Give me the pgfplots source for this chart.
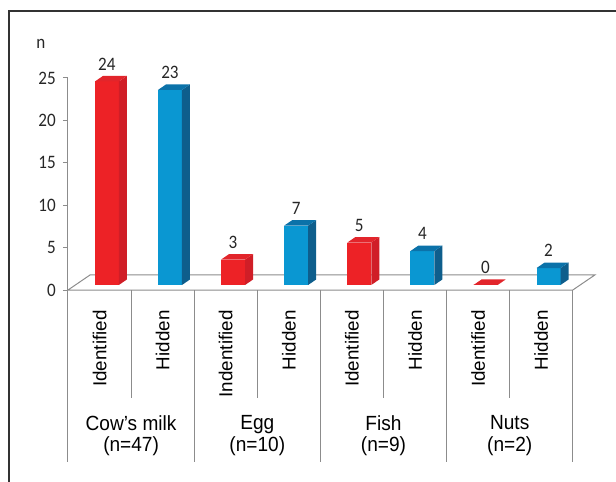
\documentclass[border=0pt]{standalone}
\usepackage{fontspec}
\setmainfont{Liberation Sans}
\newfontfamily\carlito{Carlito}[FakeStretch=0.9]
\newfontfamily\catfont{Liberation Sans}[FakeStretch=0.93]
\usepackage{pgfplots}
\usepackage{pgfplotstable}
\pgfplotsset{compat=1.18}

\definecolor{redF}{HTML}{ED2226}
\definecolor{redS}{HTML}{D01E27}
\definecolor{redT}{HTML}{E2252B}
\definecolor{bluF}{HTML}{0A97D2}
\definecolor{bluS}{HTML}{0E5E8C}
\definecolor{bluT}{HTML}{0B72A9}
\definecolor{floorgray}{HTML}{8C8C8C}

\pgfplotstableread{
s v
0 24
2 3
4 5
6 0
}\identified
\pgfplotstableread{
s v
1 23
3 7
5 4
7 2
}\hidden

% 3D bar: front face, side face, top face
\newcommand{\threedbar}[5]{%
  \pgfmathsetmacro\xl{#1+0.426}%
  \pgfmathsetmacro\xr{#1+0.806}%
  \pgfmathsetmacro\yt{#2+0.59}%
  \pgfmathsetmacro\xlb{#1+0.426+0.127}%
  \pgfmathsetmacro\xrb{#1+0.806+0.127}%
  \pgfmathsetmacro\ytb{#2+0.59+0.65}%
  \pgfmathsetmacro\ybb{0.59+0.65}%
  \edef\tmp{%
    \noexpand\addplot[fill=#3,draw=none] coordinates {(\xl,0.59) (\xr,0.59) (\xr,\yt) (\xl,\yt)} -- cycle;
    \noexpand\addplot[fill=#4,draw=none] coordinates {(\xr,0.59) (\xrb,\ybb) (\xrb,\ytb) (\xr,\yt)} -- cycle;
    \noexpand\addplot[fill=#5,draw=none] coordinates {(\xl,\yt) (\xr,\yt) (\xrb,\ytb) (\xlb,\ytb)} -- cycle;
  }\tmp
}

\newcommand{\lab}{\fontsize{18.8}{21}\selectfont}
\newcommand{\cat}{\catfont\fontsize{20.5}{21.5}\selectfont}
\newcommand{\num}{\carlito\fontsize{19}{19}\selectfont}

\begin{document}
\begin{tikzpicture}
\path[use as bounding box] (-68pt,-192pt) rectangle (548pt,290pt);
\begin{axis}[
  at={(0pt,0pt)}, anchor=south west,
  x=63.1pt, y=8.48pt,
  xmin=0, xmax=8, ymin=0, ymax=25,
  clip=false,
  hide x axis,
  axis y line*=left,
  y axis line style={floorgray, line width=1pt},
  ytick={0,5,10,15,20,25},
  tick align=outside,
  major tick length=5pt,
  ytick style={floorgray, line width=1pt},
  /pgf/number format/assume math mode=true,
  yticklabel style={font=\num, text=black!85, inner sep=2pt, xshift=-5pt},
]
% floor
\addplot[floorgray, line width=1pt, mark=none] coordinates {(0,0) (8,0) (8.349,1.77) (0.349,1.77)} -- cycle;

% bars
\pgfplotsforeachungrouped \r in {0,...,3}{%
  \pgfplotstablegetelem{\r}{s}\of\identified \let\ss\pgfplotsretval
  \pgfplotstablegetelem{\r}{v}\of\identified \let\vv\pgfplotsretval
  \threedbar{\ss}{\vv}{redF}{redS}{redT}%
  \pgfplotstablegetelem{\r}{s}\of\hidden \let\ss\pgfplotsretval
  \pgfplotstablegetelem{\r}{v}\of\hidden \let\vv\pgfplotsretval
  \threedbar{\ss}{\vv}{bluF}{bluS}{bluT}%
}

% value labels
\addplot[draw=none, mark=none, nodes near coords, point meta=\thisrow{v},
  nodes near coords align={center},
  every node near coord/.append style={font=\num, text=black!85}]
  table[x expr=\thisrow{s}+0.616, y expr=\thisrow{v}+2.655] {\identified};
\addplot[draw=none, mark=none, nodes near coords, point meta=\thisrow{v},
  nodes near coords align={center},
  every node near coord/.append style={font=\num, text=black!85}]
  table[x expr=\thisrow{s}+0.616, y expr=\thisrow{v}+2.655] {\hidden};

% separators
\pgfplotsinvokeforeach{1,3,5,7}{\draw[floorgray, line width=1pt] (axis cs:#1,0) -- (axis cs:#1,-12.74);}
\pgfplotsinvokeforeach{0,2,4,6,8}{\draw[floorgray, line width=1pt] (axis cs:#1,0) -- (axis cs:#1,-20.28);}

% sub labels
\node[rotate=90, anchor=east, font=\lab] at (axis cs:0.5,-2.0) {Identified};
\node[rotate=90, anchor=east, font=\lab] at (axis cs:1.5,-2.0) {Hidden};
\node[rotate=90, anchor=east, font=\lab] at (axis cs:2.5,-2.0) {Indentified};
\node[rotate=90, anchor=east, font=\lab] at (axis cs:3.5,-2.0) {Hidden};
\node[rotate=90, anchor=east, font=\lab] at (axis cs:4.5,-2.0) {Identified};
\node[rotate=90, anchor=east, font=\lab] at (axis cs:5.5,-2.0) {Hidden};
\node[rotate=90, anchor=east, font=\lab] at (axis cs:6.5,-2.0) {Identified};
\node[rotate=90, anchor=east, font=\lab] at (axis cs:7.5,-2.0) {Hidden};

% category labels
\node[align=center, font=\cat] at (axis cs:1,-17.16) {Cow’s milk\\(n=47)};
\node[align=center, font=\cat] at (axis cs:3,-17.16) {Egg\\(n=10)};
\node[align=center, font=\cat] at (axis cs:5,-17.16) {Fish\\(n=9)};
\node[align=center, font=\cat] at (axis cs:7,-17.16) {Nuts\\(n=2)};

% axis title
\node[font=\num, text=black!85] at (axis cs:-0.43,29.0) {n};
\end{axis}
\draw[line width=1.3pt, black!80] (-59pt,-192pt) -- (-59pt,279pt) -- (548pt,279pt);
\end{tikzpicture}
\end{document}
